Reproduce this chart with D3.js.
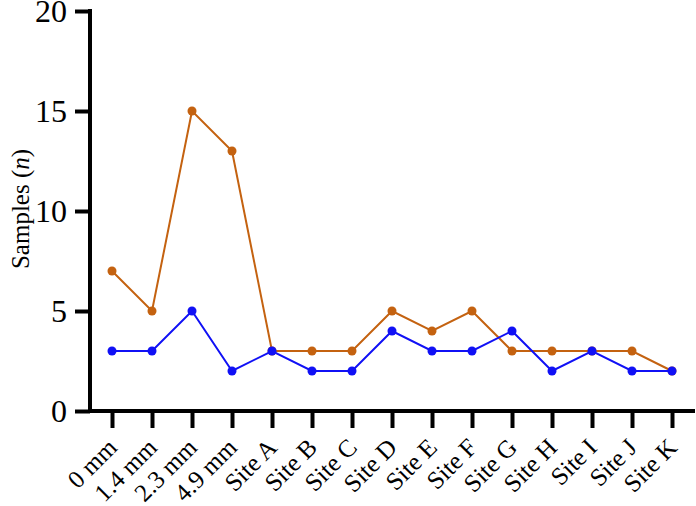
<!DOCTYPE html>
<html>
<head>
<meta charset="utf-8">
<script src="https://cdn.jsdelivr.net/npm/d3@7"></script>
<style>
  body { margin: 0; background: #fff; }
  svg text { font-family: "Liberation Serif", "Times New Roman", serif; fill: #000; }
</style>
</head>
<body>
<svg id="chart" width="696" height="506"></svg>
<script>
// data
const categories = ["0 mm", "1.4 mm", "2.3 mm", "4.9 mm", "Site A", "Site B", "Site C", "Site D",
    "Site E", "Site F", "Site G", "Site H", "Site I", "Site J", "Site K"];
const orangeValues = [7, 5, 15, 13, 3, 3, 3, 5, 4, 5, 3, 3, 3, 3, 2];
const blueValues = [3, 3, 5, 2, 3, 2, 2, 4, 3, 3, 4, 2, 3, 2, 2];
const yTicks = [0, 5, 10, 15, 20];

const svg = d3.select("#chart");
const axisX = 90, axisY = 411;

const x = d3.scalePoint()
    .domain(categories)
    .range([112, 672]);
const y = d3.scaleLinear()
    .domain([0, 20])
    .range([axisY, 11]);

// y axis
const yAxis = svg.append("g")
    .attr("transform", `translate(${axisX},0)`)
    .call(d3.axisLeft(y).tickValues(yTicks).tickSize(15).tickPadding(8));
yAxis.select(".domain").attr("stroke", "#000").attr("stroke-width", 4)
    .attr("d", `M0,${y(20) - 2}V${axisY}`);
yAxis.selectAll(".tick line").attr("stroke", "#000").attr("stroke-width", 4);
yAxis.selectAll(".tick text").style("font-size", "32px").attr("dy", "0.34em");

// x axis
const xAxis = svg.append("g")
    .attr("transform", `translate(0,${axisY})`)
    .call(d3.axisBottom(x).tickSize(17).tickPadding(4));
xAxis.select(".domain").attr("stroke", "#000").attr("stroke-width", 4)
    .attr("d", `M${axisX - 2},0H695`);
xAxis.selectAll(".tick line").attr("stroke", "#000").attr("stroke-width", 4);
xAxis.selectAll(".tick text")
    .style("font-size", "25px")
    .attr("text-anchor", "end")
    .attr("y", 0)
    .attr("dy", "0")
    .attr("transform", "translate(6,38) rotate(-45)");

// y label
svg.append("text")
    .attr("transform", "translate(29,209) rotate(-90)")
    .attr("text-anchor", "middle")
    .style("font-size", "25px")
    .html('Samples (<tspan font-style="italic">n</tspan>)');

const series = [
    { values: orangeValues, color: "#c46210" },
    { values: blueValues, color: "#1010f5" }
];

const line = d3.line()
    .x((d, i) => x(categories[i]))
    .y(d => y(d));

series.forEach(s => {
    svg.append("path")
        .datum(s.values)
        .attr("fill", "none")
        .attr("stroke", s.color)
        .attr("stroke-width", 2)
        .attr("d", line);
    svg.append("g").selectAll("circle")
        .data(s.values)
        .join("circle")
        .attr("cx", (d, i) => x(categories[i]))
        .attr("cy", d => y(d))
        .attr("r", 4.5)
        .attr("fill", s.color);
});
</script>
</body>
</html>
